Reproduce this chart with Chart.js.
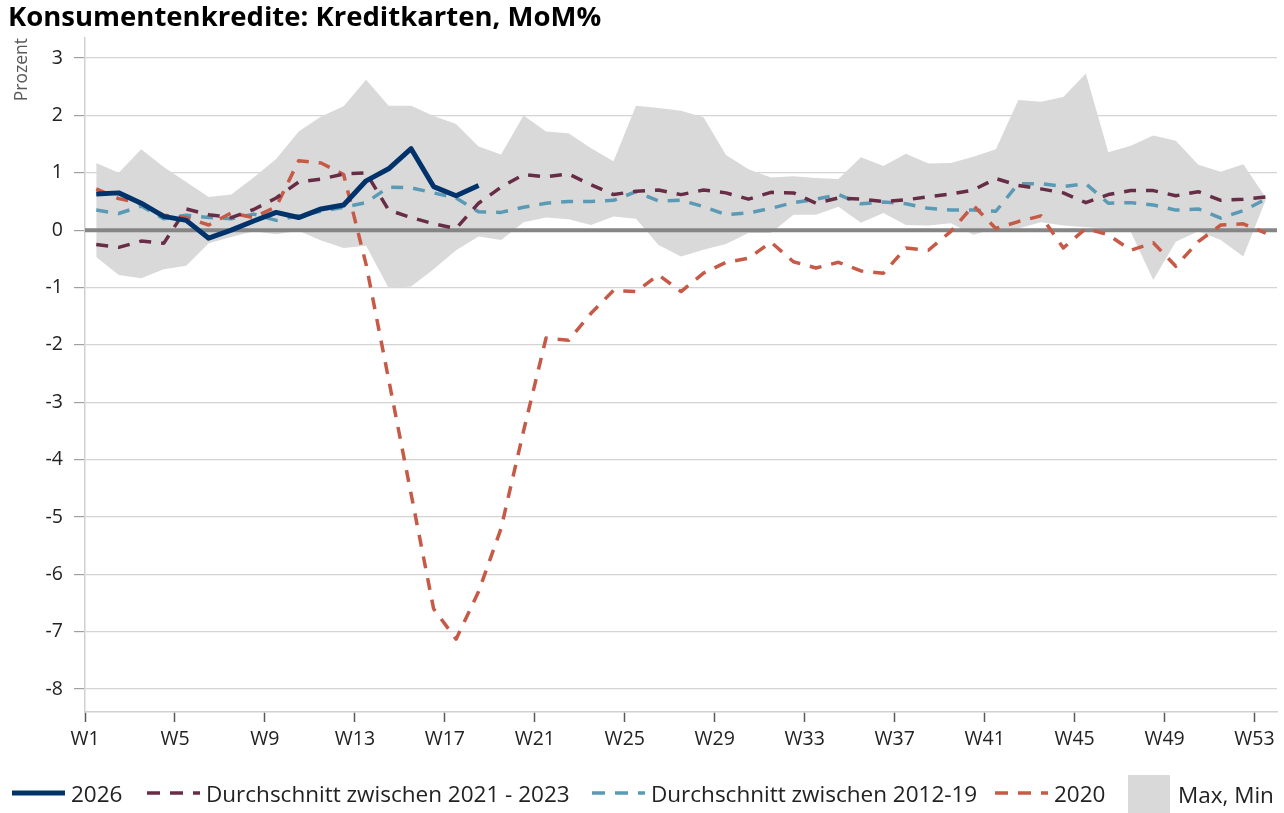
<!DOCTYPE html>
<html>
<head>
<meta charset="utf-8">
<script src="https://cdn.jsdelivr.net/npm/chart.js@4.4.1/dist/chart.umd.min.js"></script>
<style>
  html, body { margin: 0; padding: 0; background: #fff; }
  #wrap { position: relative; width: 1284px; height: 813px; font-family: "Open Sans", sans-serif; color: #222; }
  #title { position: absolute; left: 8px; top: -3px; font-size: 27.5px; font-weight: 700; color: #000; white-space: nowrap; }
  canvas { position: absolute; left: 0; top: 0; }
  .lg { position: absolute; top: 778px; height: 30px; display: flex; align-items: center; font-size: 22.5px; white-space: nowrap; color: #222; }
  .lg svg { margin-right: 6px; }
  .box { width: 42px; height: 38px; background: #d9d9d9; margin-right: 8px; }
</style>
</head>
<body>
<div id="wrap">
  <canvas id="chart" width="1284" height="813"></canvas>
  <div id="title">Konsumentenkredite: Kreditkarten, MoM%</div>
  <div id="legend"></div>
</div>
<script>
// Kalenderwochen
const weeks = Array.from({ length: 53 }, (_, i) => i + 1);
const xTicks = [1, 5, 9, 13, 17, 21, 25, 29, 33, 37, 41, 45, 49, 53];
const yTicks = [-8, -7, -6, -5, -4, -3, -2, -1, 0, 1, 2, 3];

const values2026 = [0.63, 0.65, 0.47, 0.24, 0.17, -0.14, 0.0, 0.16, 0.31, 0.22, 0.37, 0.44, 0.86, 1.07, 1.42, 0.76, 0.6, 0.78];

const avg2021_23 = [-0.25, -0.30, -0.19, -0.23, 0.37, 0.27, 0.22, 0.36, 0.56, 0.84, 0.89, 0.98, 1.0, 0.35, 0.22, 0.11, 0.03, 0.47,
  0.75, 0.97, 0.93, 0.98, 0.79, 0.62, 0.68, 0.7, 0.62, 0.7, 0.65, 0.54, 0.66, 0.65, 0.47, 0.56, 0.54, 0.5,
  0.53, 0.58, 0.63, 0.7, 0.9, 0.78, 0.72, 0.65, 0.48, 0.62, 0.69, 0.69, 0.6, 0.67, 0.52, 0.54, 0.58];

const avg2012_19 = [0.35, 0.29, 0.42, 0.2, 0.26, 0.22, 0.2, 0.28, 0.17, 0.25, 0.33, 0.4, 0.48, 0.75, 0.74, 0.65, 0.56, 0.32,
  0.31, 0.4, 0.47, 0.5, 0.5, 0.52, 0.67, 0.51, 0.52, 0.41, 0.27, 0.3, 0.38, 0.48, 0.54, 0.62, 0.46, 0.49,
  0.46, 0.38, 0.35, 0.35, 0.33, 0.81, 0.81, 0.76, 0.81, 0.47, 0.48, 0.44, 0.35, 0.37, 0.21, 0.34, 0.54];

const values2020 = [0.72, 0.55, 0.47, 0.26, 0.22, 0.09, 0.3, 0.22, 0.41, 1.21, 1.17, 0.97, -0.6, -2.6, -4.6, -6.6, -7.13, -6.3,
  -5.2, -3.5, -1.88, -1.92, -1.45, -1.05, -1.07, -0.78, -1.07, -0.75, -0.56, -0.49, -0.21, -0.55, -0.66, -0.56, -0.71, -0.75,
  -0.31, -0.35, -0.02, 0.43, 0.03, 0.15, 0.25, -0.31, 0.03, -0.08, -0.35, -0.22, -0.63, -0.2, 0.09, 0.11, -0.05];

const maxValues = [1.17, 1.0, 1.41, 1.1, 0.84, 0.58, 0.62, 0.92, 1.24, 1.72, 1.98, 2.16, 2.62, 2.17, 2.17, 1.99, 1.85, 1.46,
  1.32, 2.0, 1.72, 1.69, 1.43, 1.2, 2.17, 2.13, 2.08, 1.97, 1.31, 1.06, 0.92, 0.94, 0.91, 0.89, 1.27, 1.12,
  1.33, 1.16, 1.17, 1.28, 1.41, 2.27, 2.24, 2.32, 2.73, 1.36, 1.47, 1.65, 1.56, 1.14, 1.02, 1.15, 0.57];

const minValues = [-0.47, -0.78, -0.84, -0.68, -0.62, -0.23, -0.12, -0.02, -0.07, -0.01, -0.18, -0.31, -0.27, -1.01, -0.98, -0.68, -0.35, -0.11,
  -0.17, 0.14, 0.22, 0.19, 0.09, 0.24, 0.2, -0.26, -0.46, -0.34, -0.24, -0.05, -0.05, 0.27, 0.27, 0.41, 0.13, 0.3,
  0.09, 0.08, 0.12, -0.08, 0.03, 0.03, 0.14, 0.08, 0.05, 0.03, -0.03, -0.87, -0.2, -0.02, -0.17, -0.46, 0.53];

// Wochenwerte liegen mittig zwischen den Achsenmarken
const X_SHIFT = 0.5;
function toPoints(vals) {
  return vals.map((v, i) => ({ x: weeks[i] + X_SHIFT, y: v }));
}

const navy = '#00336b';
const wine = '#682d46';
const teal = '#5b9ab4';
const red = '#c65a47';
const area = '#d9d9d9';
const dash = [12, 10];

const zeroLine = {
  id: 'zeroLine',
  beforeDatasetsDraw(chart) {
    const { ctx, chartArea, scales } = chart;
    const y = scales.y.getPixelForValue(0);
    ctx.save();
    ctx.strokeStyle = '#858585';
    ctx.lineWidth = 4;
    ctx.beginPath();
    ctx.moveTo(chartArea.left, y);
    ctx.lineTo(chartArea.right, y);
    ctx.stroke();
    ctx.restore();
  }
};

Chart.defaults.font.family = '"Open Sans", sans-serif';
Chart.defaults.color = '#222';

const lineBase = { pointRadius: 0, pointHoverRadius: 0, tension: 0, fill: false, borderCapStyle: 'butt', borderJoinStyle: 'round' };

new Chart(document.getElementById('chart'), {
  type: 'line',
  data: {
    datasets: [
      Object.assign({ label: '2026', data: toPoints(values2026), borderColor: navy, borderWidth: 5 }, lineBase),
      Object.assign({ label: 'Durchschnitt zwischen 2021 - 2023', data: toPoints(avg2021_23), borderColor: wine, borderWidth: 3.5, borderDash: dash }, lineBase),
      Object.assign({ label: '2020', data: toPoints(values2020), borderColor: red, borderWidth: 3.5, borderDash: dash }, lineBase),
      Object.assign({ label: 'Durchschnitt zwischen 2012-19', data: toPoints(avg2012_19), borderColor: teal, borderWidth: 3.5, borderDash: dash }, lineBase),
      { label: 'Max', data: toPoints(maxValues), borderWidth: 0, borderColor: area, backgroundColor: area, pointRadius: 0, tension: 0, fill: '+1' },
      { label: 'Min', data: toPoints(minValues), borderWidth: 0, borderColor: area, backgroundColor: area, pointRadius: 0, tension: 0, fill: false }
    ]
  },
  options: {
    responsive: false,
    animation: false,
    devicePixelRatio: 1,
    layout: { padding: { top: 38, right: 7, bottom: 60, left: 0 } },
    plugins: {
      legend: { display: false },
      tooltip: { enabled: false },
      filler: { drawTime: 'beforeDatasetsDraw' }
    },
    scales: {
      x: {
        type: 'linear',
        min: 1,
        max: 54,
        afterBuildTicks: (scale) => { scale.ticks = xTicks.map(v => ({ value: v })); },
        afterFit: (scale) => { scale.height = 41; },
        ticks: { callback: (v) => 'W' + v, font: { size: 19.5 }, color: '#222', padding: 6, maxRotation: 0, autoSkip: false },
        grid: { drawOnChartArea: false, drawTicks: true, tickLength: 10, tickColor: '#595959', tickWidth: 1.5 },
        border: { display: true, color: '#d0d0d0', width: 1.5 }
      },
      y: {
        min: -8.4,
        max: 3.35,
        afterBuildTicks: (scale) => { scale.ticks = yTicks.map(v => ({ value: v })); },
        afterFit: (scale) => { scale.width = 85; },
        ticks: { font: { size: 19.5 }, color: '#222', padding: 11 },
        grid: { color: '#d4d4d4', lineWidth: 1.2, tickLength: 11, tickColor: '#a0a0a0', tickWidth: 1.2 },
        border: { display: true, color: '#d0d0d0', width: 1.5 },
        title: { display: true, text: 'Prozent', align: 'end', font: { size: 17.5 }, color: '#595959', padding: { top: 12, bottom: 0 } }
      }
    }
  },
  plugins: [zeroLine]
});

// Legende
const legendItems = [
  { left: 12, text: '2026', color: navy, width: 5, dash: null },
  { left: 147, text: 'Durchschnitt zwischen 2021 - 2023', color: wine, width: 3.5, dash: '13 10' },
  { left: 592, text: 'Durchschnitt zwischen 2012-19', color: teal, width: 3.5, dash: '13 10' },
  { left: 995, text: '2020', color: red, width: 3.5, dash: '13 10' },
  { left: 1128, text: 'Max, Min', box: true }
];
const legend = document.getElementById('legend');
legendItems.forEach(it => {
  const el = document.createElement('div');
  el.className = 'lg';
  el.style.left = it.left + 'px';
  if (it.box) {
    el.style.top = '775px';
    el.style.height = '38px';
    el.innerHTML = '<div class="box"></div><span>' + it.text + '</span>';
  } else {
    const d = it.dash ? ' stroke-dasharray="' + it.dash + '"' : '';
    el.innerHTML = '<svg width="53" height="10"><line x1="0" y1="5" x2="53" y2="5" stroke="' + it.color +
      '" stroke-width="' + it.width + '"' + d + '/></svg><span>' + it.text + '</span>';
  }
  legend.appendChild(el);
});
</script>
</body>
</html>
